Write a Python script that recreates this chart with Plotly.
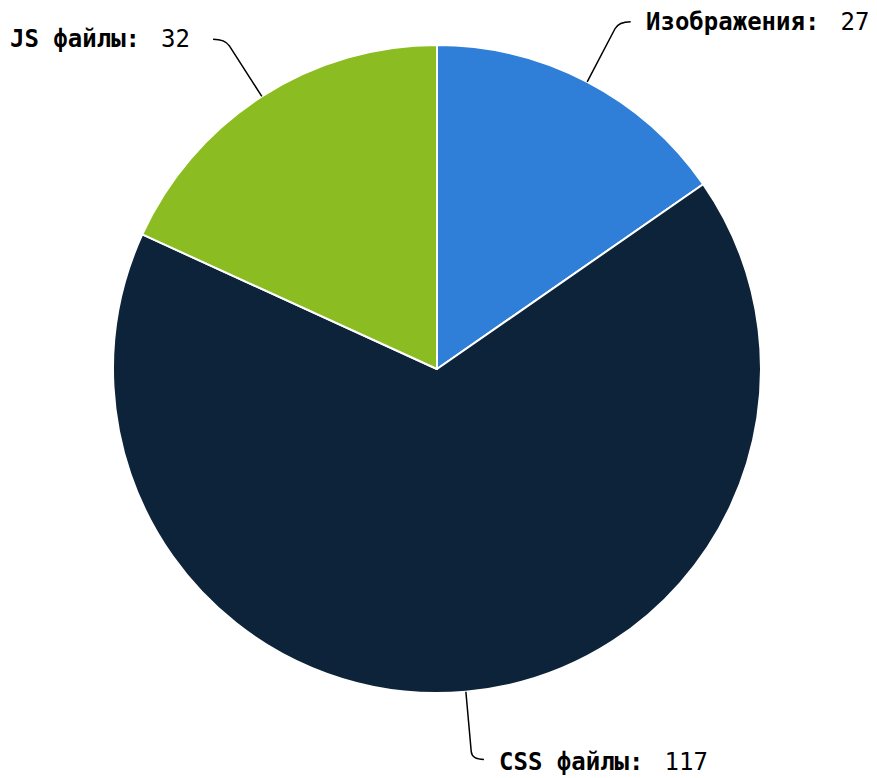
import math
import plotly.graph_objects as go

labels = ["Изображения", "CSS файлы", "JS файлы"]
values = [27, 117, 32]
colors = ["#2f7ed8", "#0d233a", "#8bbc21"]

W, H = 877, 778
CX, CY, R = 437, 369, 324
LABEL_DIST = 68
LEG = 12
GAP_R = 13
GAP_L = 21
FONT = "DejaVu Sans Mono"

fig = go.Figure(go.Pie(
    labels=labels, values=values, sort=False, direction="clockwise", rotation=0,
    marker=dict(colors=colors, line=dict(color="#ffffff", width=2)),
    textinfo="none", hoverinfo="label+value", showlegend=False,
    domain=dict(x=[(CX - R) / W, (CX + R) / W], y=[1 - (CY + R) / H, 1 - (CY - R) / H]),
))

def px(x, y):
    return x / W, 1 - y / H

total = sum(values)
cum = 0
shapes, annos = [], []
for lab, v in zip(labels, values):
    mid = (cum + v / 2) / total * 2 * math.pi
    cum += v
    dx, dy = math.sin(mid), -math.cos(mid)
    p0 = (CX + R * dx, CY + R * dy)
    a = (CX + (R + LABEL_DIST) * dx, CY + (R + LABEL_DIST) * dy)
    h = 1 if dx >= 0 else -1
    b = (a[0] - dx * 8, a[1] - dy * 8)
    e = (a[0] + h * LEG, a[1])
    pts = [px(*p0), px(*b), px(*a), px(*e)]
    path = "M {0[0]} {0[1]} L {1[0]} {1[1]} Q {2[0]} {2[1]} {3[0]} {3[1]}".format(*pts)
    shapes.append(dict(type="path", xref="paper", yref="paper", path=path,
                       line=dict(color="#000000", width=1.5)))
    gap = GAP_R if h > 0 else GAP_L
    ty_shift = 3 if dy > 0 else 0
    tx, ty = px(e[0] + h * gap, e[1] + ty_shift)
    annos.append(dict(x=tx, y=ty, xref="paper", yref="paper", showarrow=False,
                      xanchor="left" if h > 0 else "right", yanchor="middle",
                      text="<b>%s:</b><span style='font-size:11px'> </span> %d" % (lab, v),
                      font=dict(family=FONT, size=24, color="#000000")))

fig.update_layout(
    width=W, height=H, margin=dict(l=0, r=0, t=0, b=0),
    paper_bgcolor="#ffffff", plot_bgcolor="#ffffff",
    shapes=shapes, annotations=annos,
)
fig.write_html(
    "out.html",
    config={"displayModeBar": False},
    post_script="document.body.style.margin='0';document.documentElement.style.overflow='hidden';",
)
